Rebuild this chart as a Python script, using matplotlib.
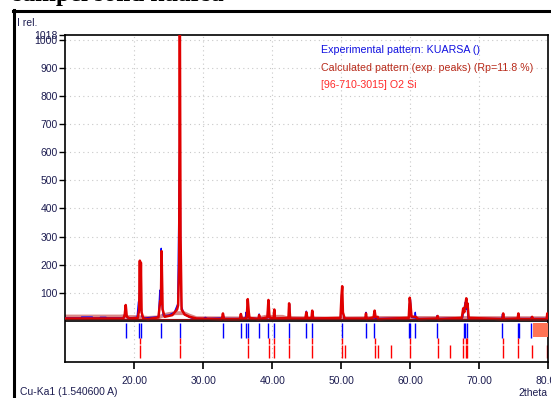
import matplotlib.pyplot as plt
from matplotlib.lines import Line2D
from matplotlib.patches import Rectangle

plt.rcParams['font.family'] = ['Liberation Sans', 'DejaVu Sans']

# experimental pattern (blue)
exp_x = [10.0, 12.3, 12.35, 13.9, 13.95, 15.0, 15.05, 15.9, 15.95, 18.5, 18.7, 18.8, 19.0,
         20.4, 20.6, 20.7, 20.8, 20.9, 21.0, 21.1, 21.5, 23.5, 23.7, 23.8, 23.9, 24.0, 24.2,
         25.0, 25.8, 26.3, 26.45, 26.55, 26.6, 26.72, 26.85, 27.2, 28.0, 28.5, 30.0, 30.3, 30.6,
         32.8, 32.9, 33.0, 35.4, 35.5, 35.6, 36.1, 36.2, 36.3, 36.45, 36.6, 38.0, 38.1, 38.2,
         39.3, 39.4, 39.55, 40.2, 40.3, 40.4, 42.4, 42.5, 42.6, 44.85, 44.95, 45.05, 45.7, 45.8,
         45.9, 49.9, 50.1, 50.2, 50.4, 53.5, 53.6, 53.7, 54.7, 54.8, 54.9, 59.8, 59.9, 60.05,
         60.2, 60.65, 60.75, 60.85, 63.8, 63.9, 64.0, 67.6, 67.8, 67.97, 68.1, 68.25, 68.4,
         73.3, 73.4, 73.5, 75.6, 75.7, 75.8, 77.5, 77.6, 77.7, 79.8, 79.9, 80.0]
exp_y = [10, 10, 13, 13, 10, 10, 12, 12, 10, 10, 40, 25, 10,
         12, 68, 30, 200, 40, 50, 15, 10, 14, 109, 80, 258, 60, 18,
         20, 30, 60, 385, 600, 930, 170, 50, 25, 12, 8, 8, 12, 8,
         10, 22, 8, 8, 24, 8, 10, 30, 12, 72, 10, 8, 24, 8,
         10, 72, 10, 8, 38, 8, 10, 58, 8, 8, 34, 8, 10, 32,
         8, 10, 110, 40, 8, 8, 30, 8, 10, 32, 8, 10, 60, 75,
         12, 10, 30, 8, 8, 18, 8, 10, 38, 65, 40, 55, 8,
         8, 24, 8, 8, 24, 8, 8, 14, 8, 8, 22, 10]

# calculated pattern (red)
calc_x = [10.0, 18.4, 18.6, 18.75, 18.9, 19.3, 20.5, 20.7, 20.8, 20.88, 20.95, 21.05, 21.3,
          22.0, 23.5, 23.75, 23.85, 23.95, 24.1, 24.4, 25.5, 26.2, 26.35, 26.5, 26.6, 26.7,
          26.85, 27.3, 28.0, 29.0, 32.7, 32.85, 33.0, 35.3, 35.45, 35.6, 36.3, 36.45, 36.6,
          36.7, 38.0, 38.1, 38.2, 39.3, 39.45, 39.6, 40.2, 40.3, 40.4, 42.35, 42.45, 42.6,
          44.8, 44.95, 45.1, 45.7, 45.8, 45.95, 49.9, 50.05, 50.15, 50.25, 50.5, 53.5, 53.6,
          53.7, 54.7, 54.85, 55.0, 55.3, 55.4, 59.8, 59.95, 60.05, 60.2, 60.8, 61.2, 63.9,
          64.0, 64.1, 67.5, 67.7, 67.85, 68.15, 68.25, 68.32, 68.5, 73.4, 73.5, 73.6, 75.6,
          75.7, 75.8, 77.6, 77.7, 77.8, 79.8, 79.9, 80.0]
calc_y = [8, 8, 20, 56, 15, 8, 10, 40, 214, 60, 207, 30, 8,
          6, 12, 70, 60, 248, 40, 14, 20, 40, 55, 200, 1100, 300,
          40, 22, 14, 8, 6, 26, 6, 6, 24, 6, 10, 77, 30,
          10, 6, 20, 6, 12, 74, 12, 8, 40, 8, 10, 62, 8,
          8, 30, 8, 10, 36, 8, 10, 90, 123, 30, 8, 8, 26,
          6, 12, 36, 12, 14, 6, 10, 82, 60, 15, 14, 6, 8,
          17, 6, 10, 44, 30, 80, 50, 62, 10, 6, 26, 6, 8,
          26, 6, 6, 14, 6, 6, 26, 10]

# background
bg_x = [10.0, 18.0, 18.5, 19.0, 20.5, 22.0, 23.5, 24.3, 25.0, 26.0, 27.2, 28.0, 29.0,
        38.0, 39.0, 41.5, 42.0, 48.0, 57.0, 58.0, 80.0]
bg_y = [15, 15, 16, 13, 13, 10, 12, 20, 24, 27, 27, 18, 9,
        8, 14, 14, 10, 8, 10, 10, 9]

# peak markers
exp_peaks = [18.75, 20.72, 21.0, 23.9, 26.55, 32.9, 35.5, 36.2, 36.5, 38.1, 39.4, 40.3,
             42.5, 44.95, 45.8, 50.1, 53.6, 54.8, 59.9, 60.05, 60.75, 63.9, 67.8, 67.97,
             68.25, 73.4, 75.7, 75.8, 77.6]
phase_peaks = [20.86, 26.64, 36.54, 39.46, 40.29, 42.45, 45.79, 50.14, 50.62, 54.87, 55.32,
               57.23, 59.96, 64.03, 65.79, 67.74, 68.14, 68.32, 73.47, 75.66, 77.68, 79.88]
matched_peaks = [20.86, 26.64, 36.54, 39.46, 40.29, 42.45, 45.79, 50.14, 54.87, 59.96,
                 64.03, 67.74, 68.14, 68.32, 73.47, 75.66]

y_ticks = [100, 200, 300, 400, 500, 600, 700, 800, 900, 1000, 1018]
x_ticks = [20, 30, 40, 50, 60, 70, 80]

W, H = 551, 398
txt = '#1c1c50'

fig = plt.figure(figsize=(W / 100, H / 100), dpi=100)
ax = fig.add_axes([65.4 / W, 1 - 362 / H, (548 - 65.4) / W, (362 - 35) / H])

# grid
for y in y_ticks[:-1]:
    ax.axhline(y, color='#c8c8c8', lw=0.8, ls=(0, (1, 3)), zorder=0)
for x in x_ticks[:-1]:
    ax.axvline(x, color='#c8c8c8', lw=0.8, ls=(0, (1, 3)), zorder=0)

ax.plot(bg_x, bg_y, color='#d98888', lw=2.8, zorder=1)
ax.axhline(0, color='#202020', lw=1.4, zorder=2)
ax.plot(exp_x, exp_y, color='#0000ff', lw=1.0, zorder=3)
ax.plot(calc_x, calc_y, color='#e00000', lw=1.8, zorder=4)
ax.plot([10, 80], [6, 6], color='#8b1010', lw=0.8, zorder=4)

ax.vlines(exp_peaks, -8, -60, color='#0000ff', lw=1.0)
ax.vlines(matched_peaks, -60, -84, color='#ff0000', lw=1.0)
ax.vlines(phase_peaks, -87, -133, color='#ff0000', lw=1.0)
ax.add_patch(Rectangle((77.8, -57), 2.2, 50, color='#ff7455', lw=0, zorder=3))

ax.set_xlim(10, 80)
ax.set_ylim(-147, 1018)
ax.set_xticks(x_ticks)
ax.set_xticklabels([f'{x:.2f}' for x in x_ticks])
ax.set_yticks(y_ticks)
ax.tick_params(axis='x', direction='out', length=5, width=1.2, colors='#000000',
               labelcolor=txt, labelsize=7.5, pad=5)
ax.tick_params(axis='y', direction='out', length=4, width=1.0, colors='#000000',
               labelcolor=txt, labelsize=7.5, pad=1.5)
for s in ax.spines.values():
    s.set_linewidth(1.2)
    s.set_color('#000000')

# legend texts
ax.text(0.53, 0.953, 'Experimental pattern: KUARSA ()', transform=ax.transAxes,
        color='#1010e0', fontsize=7.7, va='center')
ax.text(0.53, 0.898, 'Calculated pattern (exp. peaks) (Rp=11.8 %)', transform=ax.transAxes,
        color='#b82a1a', fontsize=7.7, va='center')
ax.text(0.53, 0.846, '[96-710-3015] O2 Si', transform=ax.transAxes,
        color='#ff2a2a', fontsize=7.7, va='center')

fig.text(17 / W, 1 - 23 / H, 'I rel.', color=txt, fontsize=7.5, va='center')
fig.text(20 / W, 1 - 392 / H, 'Cu-Ka1 (1.540600 A)', color=txt, fontsize=7.5, va='center')
fig.text(547 / W, 1 - 393 / H, '2theta', color=txt, fontsize=7.5, va='center', ha='right')

# surrounding frame and cropped caption above it
fig.add_artist(Line2D([14 / W, 14 / W], [0, 1 - 10 / H], color='black', lw=2.2))
fig.add_artist(Line2D([13 / W, 1], [1 - 11 / H, 1 - 11 / H], color='black', lw=2.2))
fig.text(13 / W, 1 - 1.5 / H, 'sampel solid kuarsa', family='Liberation Serif',
         fontsize=18, fontweight='bold', color='black', va='baseline')

fig.savefig('out.png', dpi=100)
